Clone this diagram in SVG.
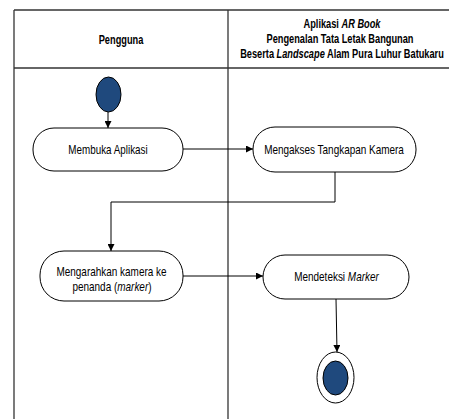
<svg xmlns="http://www.w3.org/2000/svg" width="449" height="419" viewBox="0 0 449 419">
<defs>
<marker id="arr" viewBox="0 0 10 10" refX="10" refY="5" markerWidth="7" markerHeight="7" markerUnits="userSpaceOnUse" orient="auto">
<path d="M0,0 L10,5 L0,10 z" fill="#000"/>
</marker>
</defs>
<style>
.lane{stroke:#333;stroke-width:1.3;fill:none}
.node{fill:#fff;stroke:#000;stroke-width:1}
.t{font-family:"Liberation Sans",Arial,sans-serif;font-size:12px;fill:#000;text-anchor:middle}
.h{font-family:"Liberation Sans",Arial,sans-serif;font-size:12px;font-weight:bold;fill:#000;text-anchor:middle}
.dot{fill:#1f497d;stroke:#000;stroke-width:1}
.c{fill:none;stroke:#000;stroke-width:1;marker-end:url(#arr)}
</style>
<rect width="449" height="419" fill="#fff"/>
<g id="swimlanes">
<line class="lane" x1="14" y1="10" x2="449" y2="10"/>
<line class="lane" x1="14" y1="68" x2="449" y2="68"/>
<line class="lane" x1="14" y1="10" x2="14" y2="419"/>
<line class="lane" x1="228" y1="10" x2="228" y2="419"/>
<text class="h" transform="translate(121,44) scale(0.77,1)">Pengguna</text>
<text class="h" transform="translate(342,28) scale(0.77,1)">Aplikasi <tspan font-style="italic">AR Book</tspan></text>
<text class="h" transform="translate(340,43) scale(0.77,1)">Pengenalan Tata Letak Bangunan</text>
<text class="h" transform="translate(342,58) scale(0.77,1)">Beserta <tspan font-style="italic">Landscape</tspan> Alam Pura Luhur Batukaru</text>
</g>
<g id="connectors">
<line class="c" x1="108" y1="112" x2="108" y2="128"/>
<line class="c" x1="183" y1="149" x2="253" y2="149"/>
<polyline class="c" points="335,172 335,202 111,202 111,251"/>
<line class="c" x1="183" y1="276" x2="263" y2="276"/>
<line class="c" x1="336" y1="299" x2="337" y2="352"/>
</g>
<g id="start">
<ellipse class="dot" cx="108.5" cy="94.5" rx="12.5" ry="17.5"/>
</g>
<g id="membuka">
<rect class="node" x="33" y="128" width="150" height="43" rx="21" ry="21"/>
<text class="t" transform="translate(108,153.5) scale(0.82,1)">Membuka Aplikasi</text>
</g>
<g id="mengakses">
<rect class="node" x="253" y="127" width="163" height="45" rx="22" ry="22"/>
<text class="t" transform="translate(334,153.5) scale(0.83,1)">Mengakses Tangkapan Kamera</text>
</g>
<g id="mengarahkan">
<rect class="node" x="40" y="251" width="143" height="50" rx="24" ry="24"/>
<text class="t" transform="translate(111.5,276) scale(0.83,1)">Mengarahkan kamera ke</text>
<text class="t" transform="translate(112,291) scale(0.83,1)">penanda (<tspan font-style="italic">marker</tspan>)</text>
</g>
<g id="mendeteksi">
<rect class="node" x="263" y="255" width="146" height="44" rx="22" ry="22"/>
<text class="t" transform="translate(336.5,281) scale(0.83,1)">Mendeteksi <tspan font-style="italic">Marker</tspan></text>
</g>
<g id="end">
<ellipse fill="#fff" stroke="#000" stroke-width="1" cx="335.5" cy="377.5" rx="18.5" ry="25.5"/>
<ellipse class="dot" cx="335.5" cy="378" rx="12.5" ry="17"/>
</g>
</svg>
